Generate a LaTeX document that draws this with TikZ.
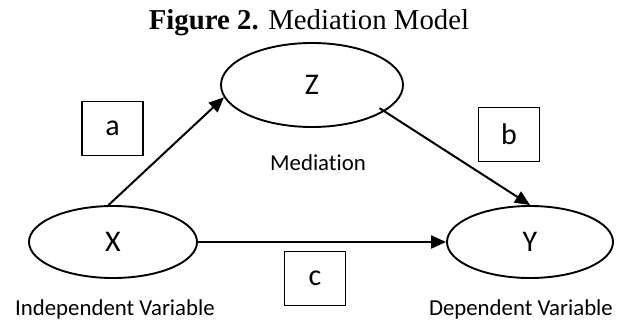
\documentclass[tikz,border=0pt]{standalone}
\usepackage{fontspec}
\setmainfont[Ligatures=NoCommon]{Carlito}
\newfontfamily\titlefont{Liberation Serif}
\usetikzlibrary{shapes.geometric,arrows.meta}
\tikzset{
  var/.style={draw, ellipse, line width=1.9pt, inner sep=0pt, font=\fontsize{30}{36}\selectfont},
  coefbox/.style={draw, rectangle, line width=1.5pt, minimum width=61pt, minimum height=54pt, inner sep=0pt, font=\fontsize{30}{36}\selectfont},
  lbl/.style={inner sep=0pt, font=\fontsize{22.8}{27}\selectfont},
  path/.style={line width=2pt, -{Triangle[length=15pt,width=13pt]}}
}
\begin{document}
\begin{tikzpicture}[x=1pt,y=1pt]
\useasboundingbox (0,0) rectangle (620,-321);
\node[inner sep=0pt, anchor=base, font=\titlefont\fontsize{28.8}{34}\selectfont] (title) at (309,-30) {\textbf{Figure 2.} Mediation Model};
\node[var, minimum width=182pt, minimum height=84pt] (Z) at (312,-85) {Z};
\node[var, minimum width=168pt, minimum height=72pt] (X) at (113,-242) {X};
\node[var, minimum width=166pt, minimum height=72pt] (Y) at (530,-242) {Y};
\node[coefbox] (a) at (112.5,-128.5) {a};
\node[coefbox] (b) at (509,-134.5) {b};
\node[coefbox] (c) at (315,-278.5) {c};
\node[lbl, anchor=base] (med) at (318,-170) {Mediation};
\node[lbl, anchor=base west] (iv) at (15,-315) {Independent Variable};
\node[lbl, anchor=base east] (dv) at (613,-315) {Dependent Variable};
\draw[path] (X.97) -- (Z.188);
\draw[path, shorten <=-6pt] (Z.-20) -- (Y.north);
\draw[path] (X.east) -- (Y.west);
\end{tikzpicture}
\end{document}
